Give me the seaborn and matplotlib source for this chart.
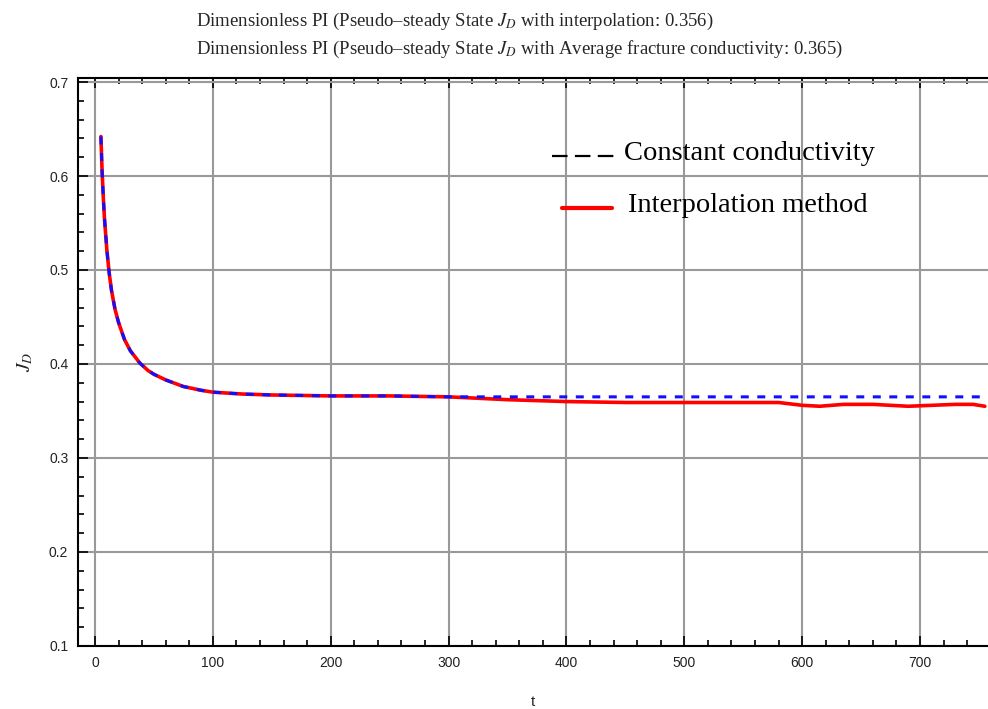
import matplotlib
matplotlib.use("Agg")
import matplotlib.pyplot as plt
from matplotlib.lines import Line2D
from matplotlib.ticker import MultipleLocator
import seaborn as sns
import pandas as pd

# Dimensionless productivity index over time
t_early = [5, 6, 7, 8, 10, 12, 14, 17, 20, 25, 30, 38, 45, 50, 60, 75, 90, 100,
           125, 150, 200, 250, 300]
jd_early = [0.642, 0.605, 0.578, 0.555, 0.522, 0.497, 0.478, 0.458, 0.444, 0.426,
            0.414, 0.401, 0.393, 0.389, 0.383, 0.376, 0.372, 0.370,
            0.368, 0.367, 0.366, 0.366, 0.365]

# Late-time values for each method
t_late = [350, 400, 450, 500, 550, 580, 600, 615, 635, 660, 690, 710, 730, 745, 755]
jd_constant_late = [0.365] * len(t_late)
jd_interp_late = [0.362, 0.360, 0.359, 0.359, 0.359, 0.359, 0.356, 0.355, 0.357,
                  0.357, 0.355, 0.356, 0.357, 0.357, 0.355]

jd_pss_interp = 0.356
jd_pss_constant = 0.365

x_ticks = [0, 100, 200, 300, 400, 500, 600, 700]
y_ticks = [0.1, 0.2, 0.3, 0.4, 0.5, 0.6, 0.7]

df = pd.concat([
    pd.DataFrame({"t": t_early + t_late, "JD": jd_early + jd_interp_late,
                  "method": "Interpolation method"}),
    pd.DataFrame({"t": t_early + t_late, "JD": jd_early + jd_constant_late,
                  "method": "Constant conductivity"}),
])

sns.set_theme(style="white")
plt.rcParams["font.family"] = ["Liberation Sans", "DejaVu Sans"]
plt.rcParams["mathtext.fontset"] = "stix"

fig = plt.figure(figsize=(9.88, 7.09), dpi=100)
ax = fig.add_axes([0.079, 0.089, 0.921, 0.801])

sns.lineplot(data=df[df.method == "Interpolation method"], x="t", y="JD",
             color="#ff0000", lw=2.6, ax=ax, legend=False, zorder=3)
sns.lineplot(data=df[df.method == "Constant conductivity"], x="t", y="JD",
             color="#1010ff", lw=2.2, ax=ax, legend=False, zorder=4)
ax.lines[1].set_dashes([2.6, 2.8])

ax.set_xlim(-14.4, 757.7)
ax.set_ylim(0.1, 0.7043)
ax.set_xticks(x_ticks)
ax.set_yticks(y_ticks)
ax.set_xticklabels([str(v) for v in x_ticks])
ax.set_yticklabels([f"{v:.1f}" for v in y_ticks])
ax.xaxis.set_minor_locator(MultipleLocator(20))
ax.yaxis.set_minor_locator(MultipleLocator(0.02))
ax.tick_params(which="both", direction="in", top=True, left=True, bottom=True,
               right=False, color="black", labelsize=10, labelcolor="#222222")
ax.tick_params(which="major", length=7, width=1.2, pad=7)
ax.tick_params(which="minor", length=4, width=1.2)

ax.grid(True, which="major", color="#999999", lw=1.5)
for side in ["left", "bottom", "top"]:
    ax.spines[side].set_color("black")
    ax.spines[side].set_linewidth(1.5)
ax.spines["right"].set_visible(False)

ax.set_xlabel("t", fontsize=11, labelpad=18)
ax.set_ylabel(r"$J_D$", fontsize=14, labelpad=10)

serif = ["Liberation Serif", "DejaVu Serif"]


def fx(px):
    return px / 988


def fy(py):
    return 1 - py / 709


fig.text(fx(196), fy(21),
         f"Dimensionless PI (Pseudo\u2013steady State $J_D$ with interpolation: {jd_pss_interp})",
         ha="left", va="center", fontsize=13.5, family=serif)
fig.text(fx(196), fy(49),
         f"Dimensionless PI (Pseudo\u2013steady State $J_D$ with Average fracture conductivity: {jd_pss_constant})",
         ha="left", va="center", fontsize=13.5, family=serif)

# Legend keys and labels placed inside the plot area
fig.add_artist(Line2D([fx(552), fx(614)], [fy(156), fy(156)], color="black",
                      lw=1.6, dashes=[7.0, 3.3], transform=fig.transFigure))
fig.add_artist(Line2D([fx(562), fx(612)], [fy(208), fy(208)], color="#ff0000",
                      lw=3.0, transform=fig.transFigure))
fig.text(fx(624), fy(154), "Constant conductivity", ha="left", va="center",
         fontsize=20.5, family=serif, color="black")
fig.text(fx(628), fy(206), "Interpolation method", ha="left", va="center",
         fontsize=20.5, family=serif, color="black")

fig.savefig("out.png", dpi=100)
